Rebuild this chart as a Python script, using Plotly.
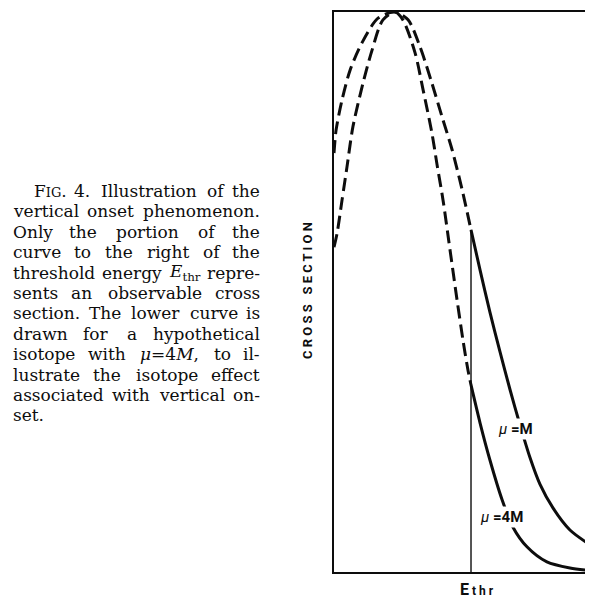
import plotly.graph_objects as go

# ---------------- data (arbitrary energy / cross-section units) ----------------
E_THR = 5.29

# unobservable (dashed) parts, below threshold
e_dash_M = [0.0, 0.08, 0.31, 0.62, 1.08, 1.70, 2.36, 2.86, 3.32, 3.78, 4.17, 4.56, 4.94, 5.29]
s_dash_M = [7.48, 7.89, 8.43, 8.96, 9.45, 9.89, 10.0, 9.86, 9.38, 8.73, 8.13, 7.54, 6.84, 6.11]

e_dash_4M = [0.0, 0.12, 0.31, 0.50, 0.73, 1.12, 1.47, 1.89, 2.36, 2.66, 3.13, 3.44, 3.78,
             3.98, 4.21, 4.48, 4.75, 4.98, 5.17, 5.29]
s_dash_4M = [5.80, 6.05, 6.64, 7.23, 7.95, 8.73, 9.32, 9.86, 10.0, 9.86, 9.27, 8.61, 7.84,
             7.27, 6.64, 5.75, 4.86, 4.14, 3.61, 3.34]

# observable (solid) parts, above threshold
e_solid_M = [5.29, 5.64, 6.02, 6.41, 6.80, 7.18, 7.57, 7.95, 8.46, 9.11, 10.0]
s_solid_M = [6.11, 5.39, 4.64, 3.93, 3.25, 2.63, 2.04, 1.57, 1.14, 0.75, 0.45]

e_solid_4M = [5.29, 5.64, 6.02, 6.49, 6.91, 7.45, 8.22, 9.11, 10.0]
s_solid_4M = [3.34, 2.66, 2.00, 1.29, 0.80, 0.45, 0.18, 0.07, 0.02]

curve_labels = ["<i>\u03bc</i> <b>=M</b>", "<i>\u03bc</i> <b>=4M</b>"]
label_pos = [(6.99, 2.56), (6.45, 0.98)]

caption_lines = [
    ["FIG.", "4.", "Illustration", "of", "the"],
    ["vertical", "onset", "phenomenon."],
    ["Only", "the", "portion", "of", "the"],
    ["curve", "to", "the", "right", "of", "the"],
    ["threshold", "energy", "E_thr", "repre-"],
    ["sents", "an", "observable", "cross"],
    ["section.", "The", "lower", "curve", "is"],
    ["drawn", "for", "a", "hypothetical"],
    ["isotope", "with", "mu=4M,", "to", "il-"],
    ["lustrate", "the", "isotope", "effect"],
    ["associated", "with", "vertical", "on-"],
    ["set."],
]

# ---------------- figure ----------------
OFF = 8                      # page body margin of the browser
W, H = 593 - OFF, 595 - OFF
PX_L, PX_T, PX_B = 334 - OFF, 12 - OFF, 572 - OFF
BLACK = "#0d0d0d"
SANS = "Roboto, Liberation Sans, sans-serif"
SERIF = "DejaVu Serif, Liberation Serif, serif"


def px(x):
    return (x - OFF) / W


def py(y):
    return 1 - (y - OFF) / H


fig = go.Figure()
dash = "13px,6px"
fig.add_trace(go.Scatter(x=e_dash_M, y=s_dash_M, mode="lines",
                         line=dict(color=BLACK, width=3, dash=dash, shape="spline", smoothing=0.8)))
fig.add_trace(go.Scatter(x=e_dash_4M, y=s_dash_4M, mode="lines",
                         line=dict(color=BLACK, width=3, dash=dash, shape="spline", smoothing=0.8)))
fig.add_trace(go.Scatter(x=e_solid_M, y=s_solid_M, mode="lines",
                         line=dict(color=BLACK, width=3, shape="spline", smoothing=0.8)))
fig.add_trace(go.Scatter(x=e_solid_4M, y=s_solid_4M, mode="lines",
                         line=dict(color=BLACK, width=3, shape="spline", smoothing=0.8)))
fig.add_trace(go.Scatter(x=[E_THR, E_THR], y=[0, s_solid_M[0]], mode="lines",
                         line=dict(color=BLACK, width=1.4)))

ann = []
# curve labels
for txt, (xx, yy) in zip(curve_labels, label_pos):
    ann.append(dict(x=xx, y=yy, xref="x", yref="y", text=txt, showarrow=False,
                    font=dict(family=SANS, size=15, color=BLACK), bgcolor="white",
                    borderpad=1))

# axis labels
ann.append(dict(x=E_THR, y=0, xref="x", yref="y", yshift=-6, xshift=-13, xanchor="left", yanchor="top",
                text="<b>E</b><span style='font-size:12px'><b> t h r</b></span>", showarrow=False,
                font=dict(family=SANS, size=16, color=BLACK)))
ann.append(dict(x=px(585), y=py(579), xref="paper", yref="paper",
                xanchor="left", yanchor="top", text="<b>E</b>", showarrow=False,
                font=dict(family=SANS, size=16, color=BLACK)))
ann.append(dict(x=px(307), y=py(291), xref="paper", yref="paper", textangle=-90,
                text="<b>C R O S S &nbsp; S E C T I O N</b>", showarrow=False,
                font=dict(family=SANS, size=13, color=BLACK)))

# caption (justified by placing words)
CW = {'a': .596, 'b': .640, 'c': .560, 'd': .640, 'e': .592, 'f': .370, 'g': .640, 'h': .644,
      'i': .320, 'j': .320, 'k': .610, 'l': .320, 'm': .948, 'n': .644, 'o': .602, 'p': .640,
      'q': .640, 'r': .478, 's': .513, 't': .402, 'u': .644, 'v': .565, 'w': .856, 'x': .564,
      'y': .565, 'z': .523, '.': .318, ',': .318, '-': .338, 'T': .668, 'O': .787, '4': .636,
      '=': .838}
FS = 17
SPECIAL = {
    "FIG.": ("F<span style='font-size:13px'>IG</span>.", (0.683 + 0.318) * FS + (0.373 + 0.775) * 13),
    "E_thr": ("<i>E</i><sub>thr</sub>", 0.73 * FS + 1.07 * FS),
    "mu=4M,": ("<i>\u03bc</i>=4<i>M</i>,", 3.43 * FS),
}


def wwidth(w):
    if w in SPECIAL:
        return SPECIAL[w][1]
    return sum(CW.get(c, 0.6) for c in w) * FS


X0, X1, Y0, DY = 11, 262, 191, 20.4
for i, words in enumerate(caption_lines):
    y = Y0 + DY * i
    start = 32 if i == 0 else X0
    widths = [wwidth(w) for w in words]
    n = len(words)
    last_line = i == len(caption_lines) - 1
    if n > 1 and not last_line:
        gap = (X1 - start - sum(widths)) / (n - 1)
    else:
        gap = 0.318 * FS
    pos = start
    for j, (w, wd) in enumerate(zip(words, widths)):
        html = SPECIAL[w][0] if w in SPECIAL else w
        if j == 0:
            xa, xp = "left", pos
        elif j == n - 1 and not last_line:
            xa, xp = "right", X1
        else:
            xa, xp = "center", pos + wd / 2
        ann.append(dict(x=px(xp), y=py(y), xref="paper", yref="paper", xanchor=xa,
                        yanchor="middle", text=html, showarrow=False,
                        font=dict(family=SERIF, size=FS, color=BLACK)))
        pos += wd + gap

fig.update_layout(
    width=W, height=H, margin=dict(l=0, r=0, t=0, b=0),
    paper_bgcolor="white", plot_bgcolor="white", showlegend=False,
    annotations=ann,
    xaxis=dict(domain=[PX_L / W, 1], range=[0, 10], showgrid=False, zeroline=False,
               showticklabels=False, ticks="", showline=True, mirror=True,
               linecolor=BLACK, linewidth=2),
    yaxis=dict(domain=[1 - PX_B / H, 1 - PX_T / H], range=[0, 10], showgrid=False,
               zeroline=False, showticklabels=False, ticks="", showline=True,
               linecolor=BLACK, linewidth=2),
)
fig.write_html("out.html")
